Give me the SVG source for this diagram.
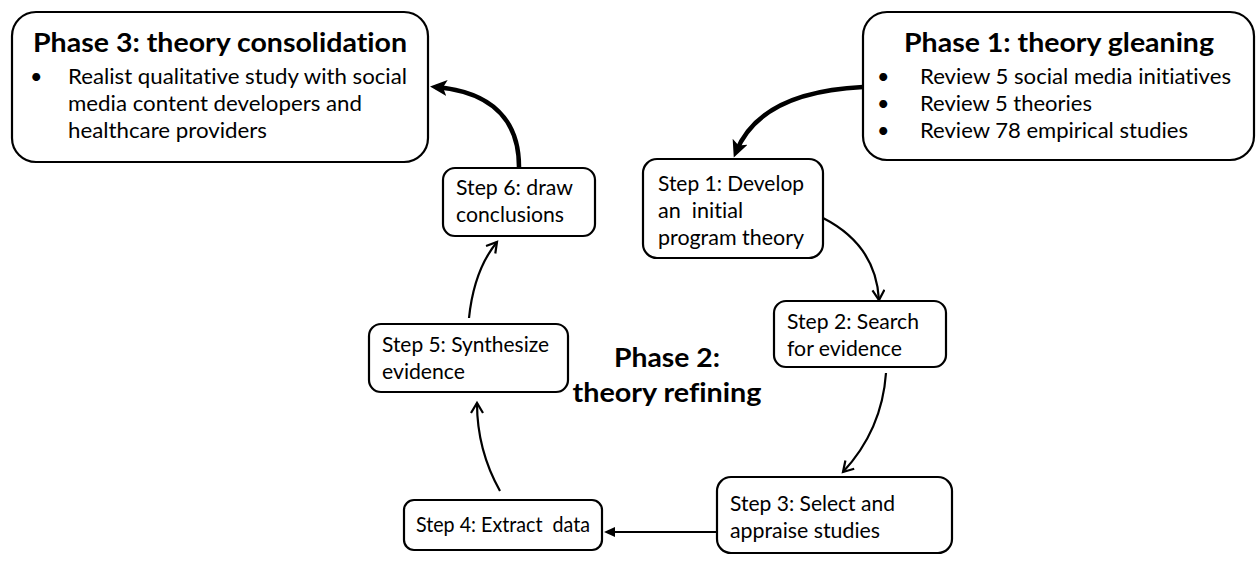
<svg xmlns="http://www.w3.org/2000/svg" width="1256" height="566" viewBox="0 0 1256 566">
  <style>
    text { font-variant-ligatures: none; font-feature-settings: "liga" 0, "clig" 0; }
    .box { fill: #ffffff; stroke: #000000; stroke-width: 2.2; }
    .title { font-family: Lato, "Liberation Sans", sans-serif; font-weight: bold; font-size: 27.5px; fill: #000000; }
    .body { font-family: Lato, "Liberation Sans", sans-serif; font-size: 21.5px; fill: #000000; }
    .step { font-family: Lato, "Liberation Sans", sans-serif; font-size: 20.5px; fill: #000000; }
    .thick { fill: none; stroke: #000000; stroke-width: 4.5; }
    .thin { fill: none; stroke: #000000; stroke-width: 2.2; }
  </style>
  <defs>
    <!-- heavy barbed head for the phase links -->
    <marker id="headHeavy" markerUnits="userSpaceOnUse" markerWidth="20" markerHeight="18" refX="11" refY="8" orient="auto">
      <path d="M0,0 L17,8 L0,16 L4,8 Z" fill="#000000"/>
    </marker>
    <!-- open chevron head for the step cycle -->
    <marker id="headOpen" markerUnits="userSpaceOnUse" markerWidth="14" markerHeight="16" refX="11" refY="7" orient="auto">
      <path d="M1,1 L11,7 L1,13" fill="none" stroke="#000000" stroke-width="2.2"/>
    </marker>
    <!-- small solid head -->
    <marker id="headSmall" markerUnits="userSpaceOnUse" markerWidth="14" markerHeight="12" refX="8" refY="5" orient="auto">
      <path d="M0,0 L11,5 L0,10 Z" fill="#000000"/>
    </marker>
  </defs>

  <!-- connectors -->
  <g id="connectors">
    <path class="thick" d="M863 87 Q 760 92 736 152" marker-end="url(#headHeavy)"/>
    <path class="thick" d="M519 167 C 519 120 492 92 436 87" marker-end="url(#headHeavy)"/>
    <path class="thin" d="M823 218 Q 876 245 879 300" marker-end="url(#headOpen)"/>
    <path class="thin" d="M886 373 Q 882 430 843 472" marker-end="url(#headOpen)"/>
    <path class="thin" d="M717 532 L 607 532" marker-end="url(#headSmall)"/>
    <path class="thin" d="M500 491 Q 477 450 477 403" marker-end="url(#headOpen)"/>
    <path class="thin" d="M469 318 Q 474 270 497 242" marker-end="url(#headOpen)"/>
  </g>

  <!-- Phase 3 -->
  <g id="phase3">
    <rect class="box" x="12" y="12" width="416" height="150" rx="24"/>
    <text class="title" x="33" y="52" textLength="374" lengthAdjust="spacingAndGlyphs">Phase 3: theory consolidation</text>
    <text class="body" x="30" y="84">•</text>
    <text class="body" x="68" y="84" textLength="339" lengthAdjust="spacingAndGlyphs">Realist qualitative study with social</text>
    <text class="body" x="68" y="111" textLength="294" lengthAdjust="spacingAndGlyphs">media content developers and</text>
    <text class="body" x="68" y="138" textLength="199" lengthAdjust="spacingAndGlyphs">healthcare providers</text>
  </g>

  <!-- Phase 1 -->
  <g id="phase1">
    <rect class="box" x="863" y="12" width="391" height="148" rx="24"/>
    <text class="title" x="904" y="52" textLength="310" lengthAdjust="spacingAndGlyphs">Phase 1: theory gleaning</text>
    <text class="body" x="877" y="84">•</text>
    <text class="body" x="877" y="111">•</text>
    <text class="body" x="877" y="138">•</text>
    <text class="body" x="920" y="84" textLength="311" lengthAdjust="spacingAndGlyphs">Review 5 social media initiatives</text>
    <text class="body" x="920" y="111" textLength="172" lengthAdjust="spacingAndGlyphs">Review 5 theories</text>
    <text class="body" x="920" y="138" textLength="268" lengthAdjust="spacingAndGlyphs">Review 78 empirical studies</text>
  </g>

  <!-- Phase 2 label -->
  <g id="phase2">
    <text class="title" x="667" y="367" text-anchor="middle" textLength="106" lengthAdjust="spacingAndGlyphs">Phase 2:</text>
    <text class="title" x="667" y="402" text-anchor="middle" textLength="189" lengthAdjust="spacingAndGlyphs">theory refining</text>
  </g>

  <!-- Step 1 -->
  <g id="step1">
    <rect class="box" x="643" y="159" width="180" height="99" rx="14"/>
    <text class="step" x="658" y="191" textLength="146" lengthAdjust="spacingAndGlyphs">Step 1: Develop</text>
    <text class="step" x="658" y="218" xml:space="preserve" textLength="85" lengthAdjust="spacingAndGlyphs">an  initial</text>
    <text class="step" x="658" y="245" textLength="146" lengthAdjust="spacingAndGlyphs">program theory</text>
  </g>

  <!-- Step 2 -->
  <g id="step2">
    <rect class="box" x="774" y="301" width="172" height="66" rx="12"/>
    <text class="step" x="787" y="329" textLength="132" lengthAdjust="spacingAndGlyphs">Step 2: Search</text>
    <text class="step" x="787" y="356" textLength="115" lengthAdjust="spacingAndGlyphs">for evidence</text>
  </g>

  <!-- Step 3 -->
  <g id="step3">
    <rect class="box" x="717" y="477" width="235" height="76" rx="14"/>
    <text class="step" x="730" y="511" textLength="165" lengthAdjust="spacingAndGlyphs">Step 3: Select and</text>
    <text class="step" x="730" y="538" textLength="150" lengthAdjust="spacingAndGlyphs">appraise studies</text>
  </g>

  <!-- Step 4 -->
  <g id="step4">
    <rect class="box" x="404" y="500" width="198" height="50" rx="10"/>
    <text class="step" x="416" y="532" xml:space="preserve" textLength="174" lengthAdjust="spacingAndGlyphs">Step 4: Extract  data</text>
  </g>

  <!-- Step 5 -->
  <g id="step5">
    <rect class="box" x="369" y="324" width="199" height="68" rx="12"/>
    <text class="step" x="382" y="352" textLength="167" lengthAdjust="spacingAndGlyphs">Step 5: Synthesize</text>
    <text class="step" x="382" y="379" textLength="83" lengthAdjust="spacingAndGlyphs">evidence</text>
  </g>

  <!-- Step 6 -->
  <g id="step6">
    <rect class="box" x="443" y="168" width="152" height="68" rx="12"/>
    <text class="step" x="456" y="195" textLength="117" lengthAdjust="spacingAndGlyphs">Step 6: draw</text>
    <text class="step" x="456" y="222" textLength="108" lengthAdjust="spacingAndGlyphs">conclusions</text>
  </g>
</svg>
